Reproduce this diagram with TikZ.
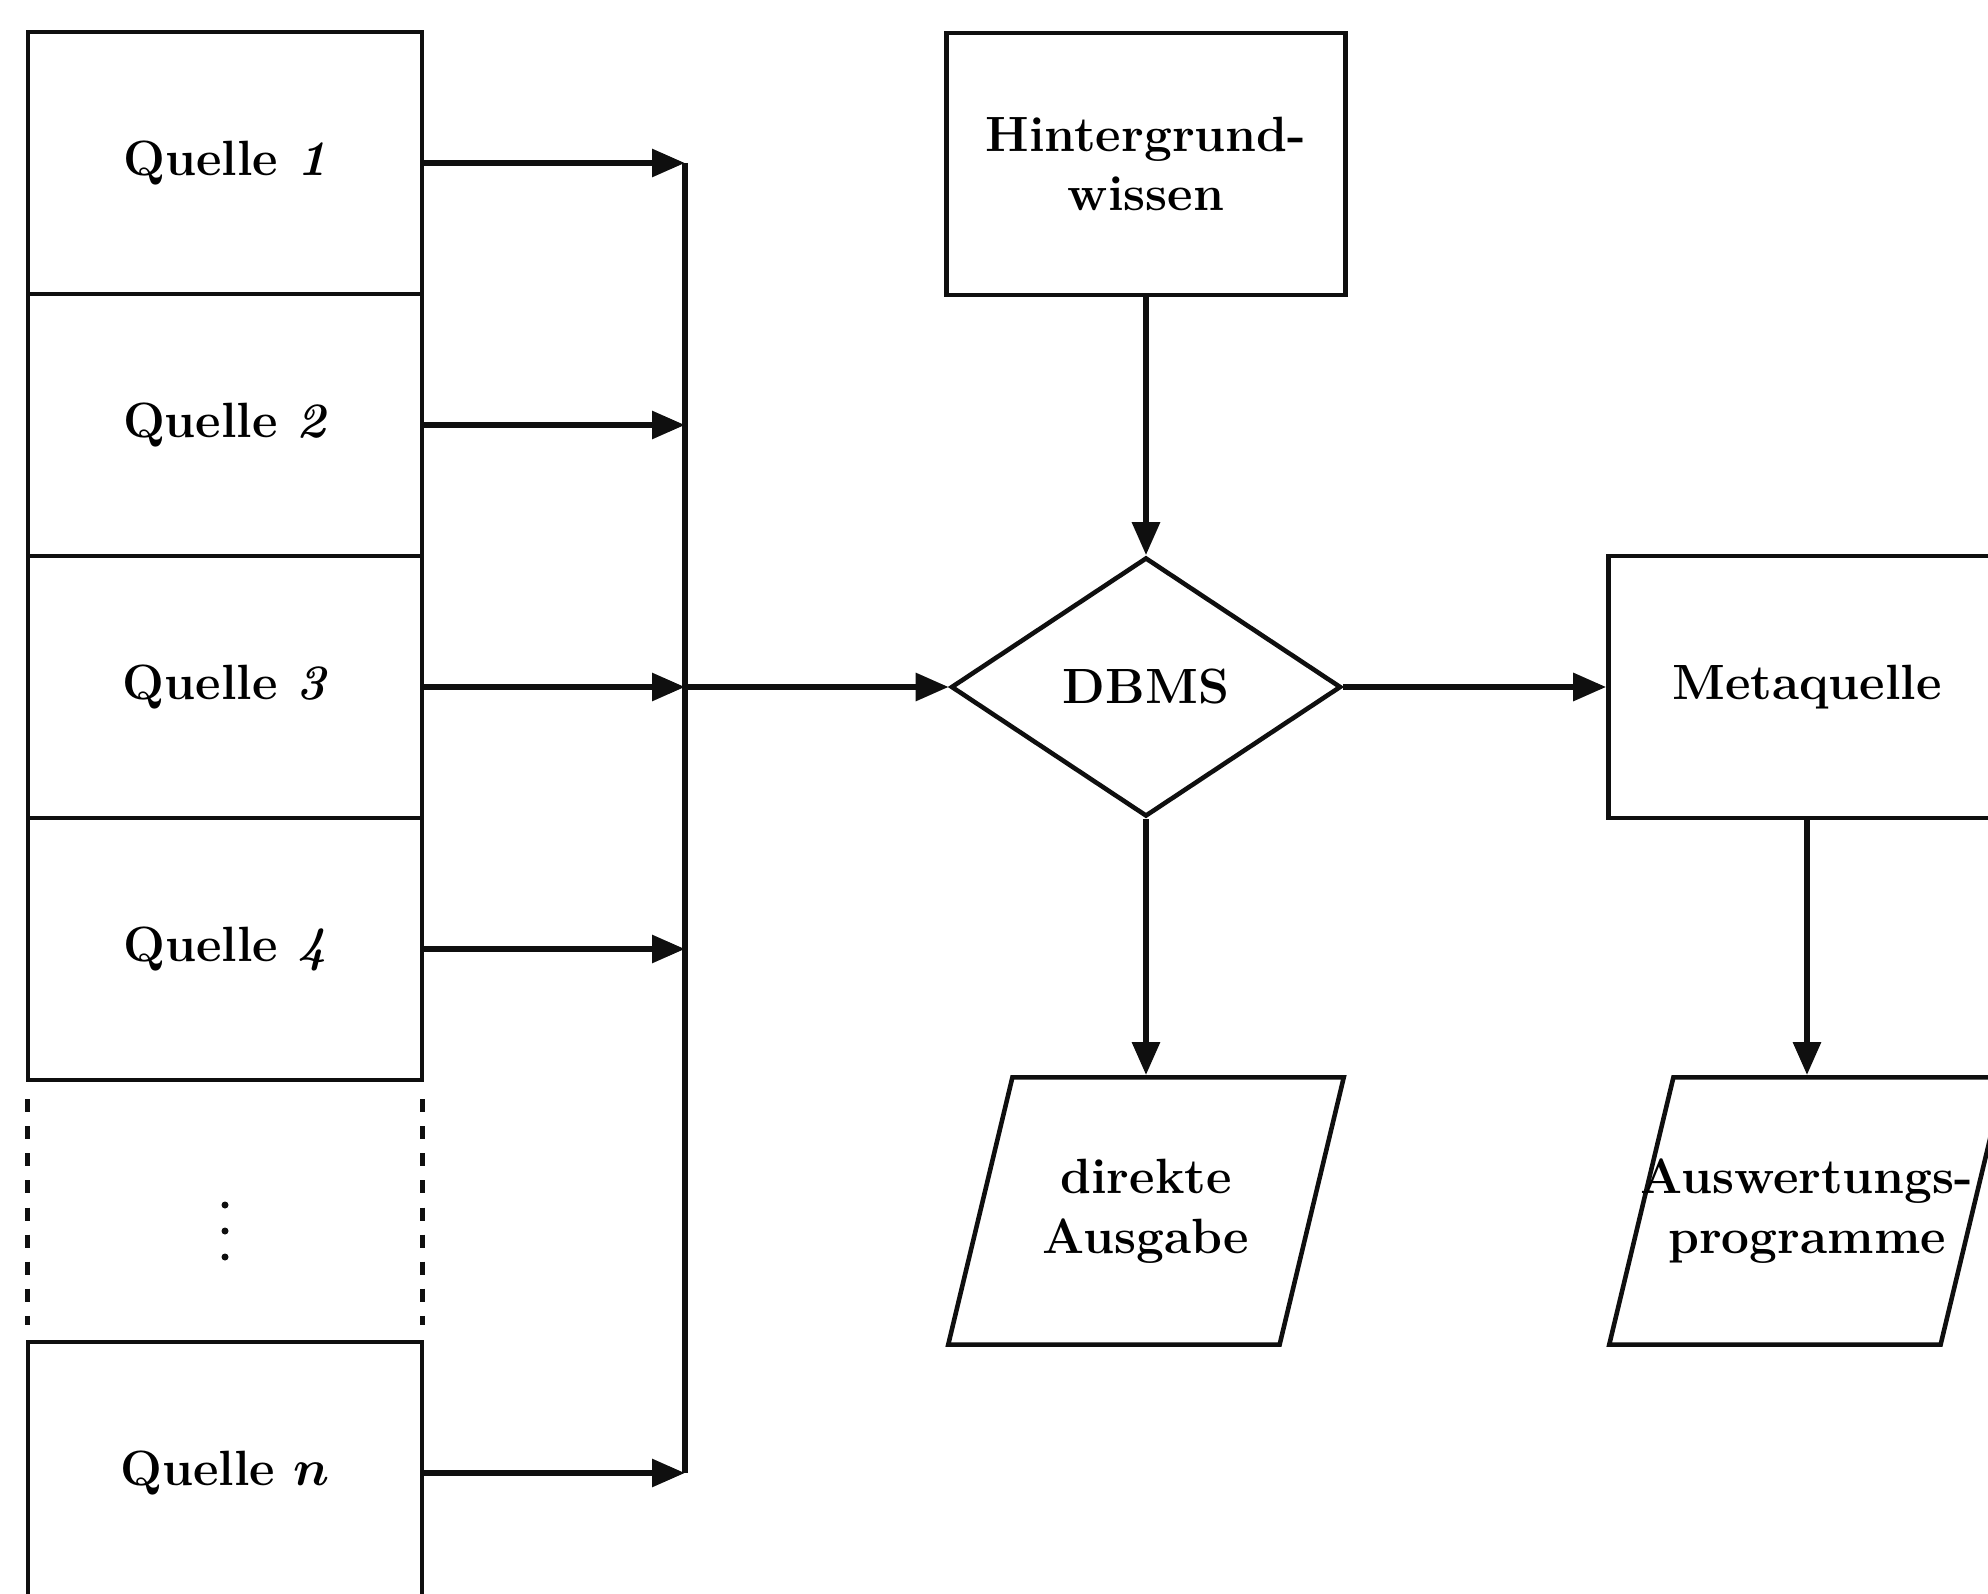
\documentclass[tikz,border=0pt]{standalone}
\usepackage{amsmath}
\usepackage{bm}
\usepackage{tikz}
\usetikzlibrary{arrows.meta}
\usetikzlibrary{shapes}

\newcommand{\schrift}{\fontsize{14.1}{17}\selectfont\bfseries}

\begin{document}
\begin{tikzpicture}[
    >={Triangle[length=0.33cm,width=0.27cm]},
    line cap=butt,
    line join=miter,
    x=1cm,
    y=1cm
]

% =========================================================
% Colors
% =========================================================
\definecolor{strich}{RGB}{15,15,15}

% =========================================================
% Styles
% =========================================================
\tikzset{
    kasten/.style={draw=strich,line width=1.3pt,minimum width=3.94cm,
        minimum height=2.62cm,inner sep=0pt,align=center,font=\schrift},
    luecke/.style={minimum width=3.94cm,minimum height=2.62cm,inner sep=0pt},
    gestrichelt/.style={draw=strich,line width=1.4pt,dash pattern=on 3.7pt off 4pt,
        shorten <=0.2cm,shorten >=0.18cm},
    entscheidung/.style={diamond,draw=strich,line width=1.3pt,minimum width=3.9cm,
        minimum height=2.59cm,inner sep=0pt,font=\schrift},
    ausgabe/.style={trapezium,trapezium left angle=76.5,trapezium right angle=103.5,
        draw=strich,line width=1.3pt,minimum width=3.96cm,
        minimum height=2.63cm,inner sep=1pt},
    beschriftung/.style={align=center,font=\schrift},
    pfeil/.style={->,draw=strich,line width=1.7pt},
    leitung/.style={draw=strich,line width=1.7pt}
}

\useasboundingbox (0,0) rectangle (19.88,-15.94);

% =========================================================
% Quellen
% =========================================================
\foreach \i/\r/\nr in {1/0/\textit{1}, 2/1/\textit{2}, 3/2/\textit{3}, 4/3/\textit{4}, n/5/$\bm{n}$}
    \node[kasten] (q\i) at (2.25,{-1.63-2.62*\r}) {Quelle \nr};

% gap row
\node[luecke] (q5) at (2.25,-12.11) {};
\draw[gestrichelt] (q5.north west) -- (q5.south west);
\draw[gestrichelt] (q5.north east) -- (q5.south east);
\foreach \d in {0.06,-0.20,-0.46}
    \fill[strich] ([yshift=\d cm]q5.center) circle (0.035);

% bus
\coordinate (bus) at (6.85,0);
\foreach \i in {1,2,3,4,n}
    \draw[pfeil] (q\i) -- (q\i -| bus);
\draw[leitung] (q1 -| bus) -- (qn -| bus);

% =========================================================
% DBMS and outputs
% =========================================================
\node[kasten,minimum width=3.99cm] (wissen) at (11.46,-1.64) {Hintergrund-\\wissen};
\node[entscheidung] (dbms) at (11.46,-6.87) {DBMS};
\node[ausgabe] (direkt) at (11.46,-12.11) {};
\node[beschriftung] (direkttext) at (direkt.center) {direkte\\Ausgabe};
\node[kasten,minimum width=3.97cm] (meta) at (18.07,-6.87) {Metaquelle};
\node[ausgabe] (auswertung) at (18.07,-12.11) {};
\node[beschriftung] (auswertungtext) at (auswertung.center) {Auswertungs-\\programme};

% connections
\draw[pfeil] (q3 -| bus) -- (dbms);
\draw[pfeil] (wissen) -- (dbms);
\draw[pfeil] (dbms) -- (meta);
\draw[pfeil] (dbms) -- (direkt);
\draw[pfeil] (meta) -- (auswertung);

\end{tikzpicture}
\end{document}
